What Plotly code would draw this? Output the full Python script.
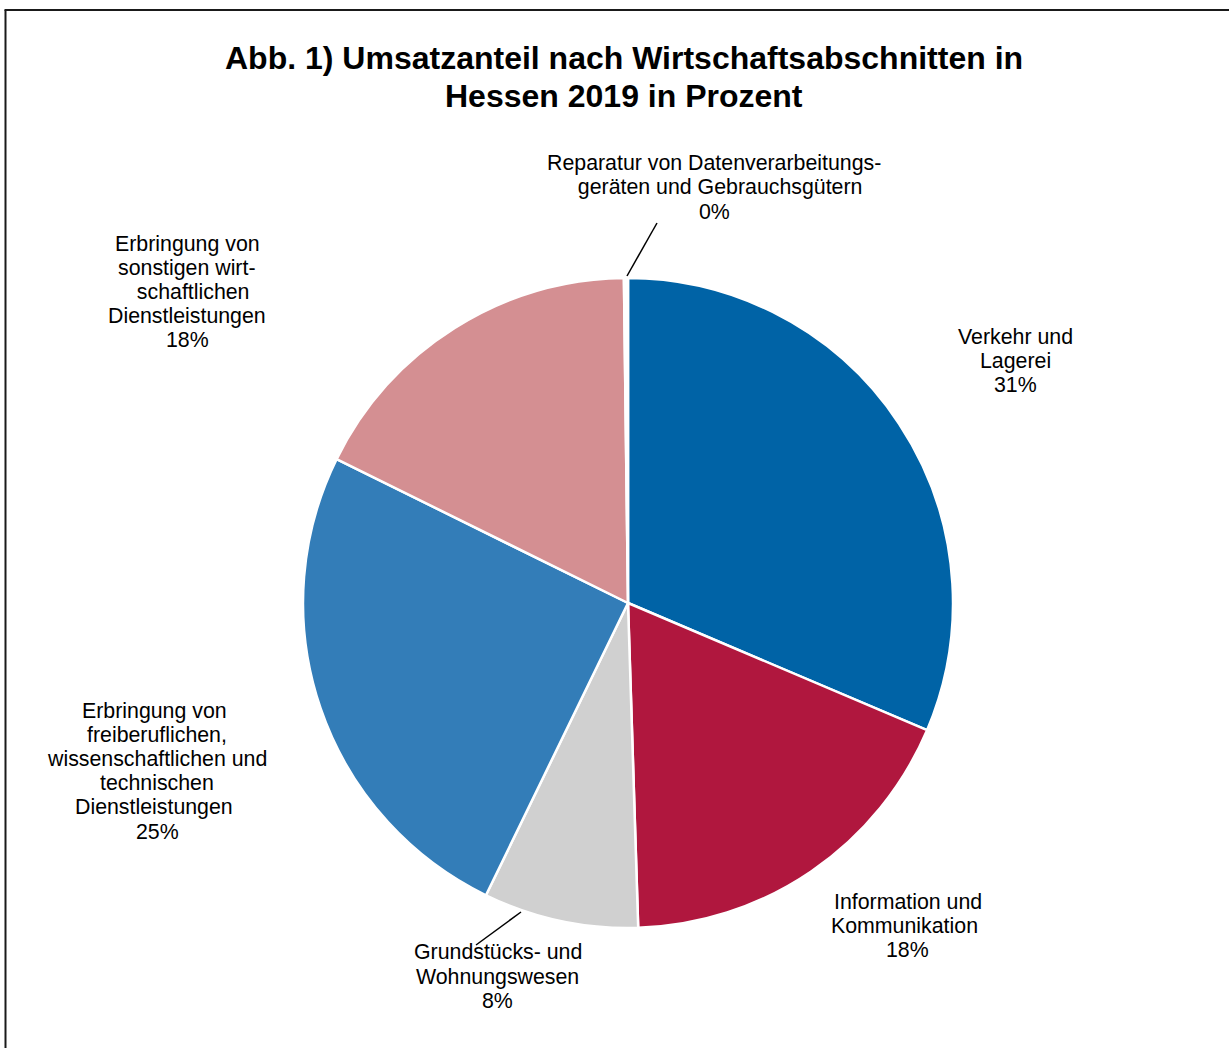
import plotly.graph_objects as go

W, H = 1229, 1048

# ---- data ----
categories = [
    "Verkehr und Lagerei",
    "Information und Kommunikation",
    "Grundstücks- und Wohnungswesen",
    "Erbringung von freiberuflichen, wissenschaftlichen und technischen Dienstleistungen",
    "Erbringung von sonstigen wirtschaftlichen Dienstleistungen",
    "Reparatur von Datenverarbeitungsgeräten und Gebrauchsgütern",
]
shares = [31.4, 18.1, 7.7, 25.1, 17.5, 0.2]
label_lines = [
    ["Verkehr und", "Lagerei"],
    ["Information und", "Kommunikation\u00a0"],
    ["Grundstücks- und", "Wohnungswesen"],
    ["Erbringung von\u00a0", "freiberuflichen,", "wissenschaftlichen und", "technischen", "Dienstleistungen\u00a0"],
    ["Erbringung von", "sonstigen wirt-", "\u00a0\u00a0schaftlichen", "Dienstleistungen"],
    ["Reparatur von Datenverarbeitungs-", "\u00a0\u00a0geräten und Gebrauchsgütern"],
]
colors = ["#0063A6", "#B0173E", "#D0D0D0", "#337DB8", "#D48F92", "#FFFFFF"]
title_lines = ["Abb. 1) Umsatzanteil nach Wirtschaftsabschnitten in", "Hessen 2019 in Prozent"]

# ---- layout positions (pixels) ----
cx, cy, r = 628, 603, 325
label_center = [(1015, 361), (908, 926), (497.5, 976.5), (157, 771), (187, 292), (714, 187.5)]
line_gap = 24.2
title_center = (624, 77)
title_gap = 38
leaders = [None, None, ((521, 912), (476, 945)), None, None, ((627, 276), (657, 223))]

def px(x):
    return x / W

def py(y):
    return 1 - y / H

fig = go.Figure(go.Pie(
    labels=categories,
    values=shares,
    sort=False,
    direction="clockwise",
    rotation=0,
    marker=dict(colors=colors, line=dict(color="white", width=2.5)),
    textinfo="none",
    hoverinfo="label+percent",
    domain=dict(x=[px(cx - r), px(cx + r)], y=[py(cy + r), py(cy - r)]),
))

FAMILY = "Liberation Sans, Arial, sans-serif"
font = dict(family=FAMILY, size=21.33, color="#000000")
annotations = []
total = sum(shares)
for lines, val, (x, y) in zip(label_lines, shares, label_center):
    all_lines = lines + [f"{round(val / total * 100):.0f}%"]
    n = len(all_lines)
    for i, t in enumerate(all_lines):
        yy = y + (i - (n - 1) / 2) * line_gap
        annotations.append(dict(
            text=t, x=px(x), y=py(yy), xref="paper", yref="paper",
            xanchor="center", yanchor="middle", align="center",
            showarrow=False, font=font,
        ))
n = len(title_lines)
for i, t in enumerate(title_lines):
    yy = title_center[1] + (i - (n - 1) / 2) * title_gap
    annotations.append(dict(
        text=f"<b>{t}</b>", x=px(title_center[0]), y=py(yy), xref="paper", yref="paper",
        xanchor="center", yanchor="middle", align="center", showarrow=False,
        font=dict(family=FAMILY, size=32, color="#000000"),
    ))

shapes = []
for ld in leaders:
    if ld:
        (x0, y0), (x1, y1) = ld
        shapes.append(dict(type="line", xref="paper", yref="paper",
                           x0=px(x0), y0=py(y0), x1=px(x1), y1=py(y1),
                           line=dict(color="#000000", width=1.5)))
# outer frame (left and top edges visible)
shapes.append(dict(type="line", xref="paper", yref="paper", x0=px(5.5), y0=py(H + 5), x1=px(5.5), y1=py(10),
                   line=dict(color="#1a1a1a", width=2)))
shapes.append(dict(type="line", xref="paper", yref="paper", x0=px(4.5), y0=py(10), x1=px(W + 5), y1=py(10),
                   line=dict(color="#1a1a1a", width=2)))

fig.update_layout(
    width=W, height=H,
    margin=dict(l=0, r=0, t=0, b=0),
    paper_bgcolor="white", plot_bgcolor="white",
    showlegend=False,
    annotations=annotations,
    shapes=shapes,
)

fig.write_html(
    "out.html",
    config={"displayModeBar": False},
    post_script="document.body.style.margin='0';document.body.style.padding='0';",
)
